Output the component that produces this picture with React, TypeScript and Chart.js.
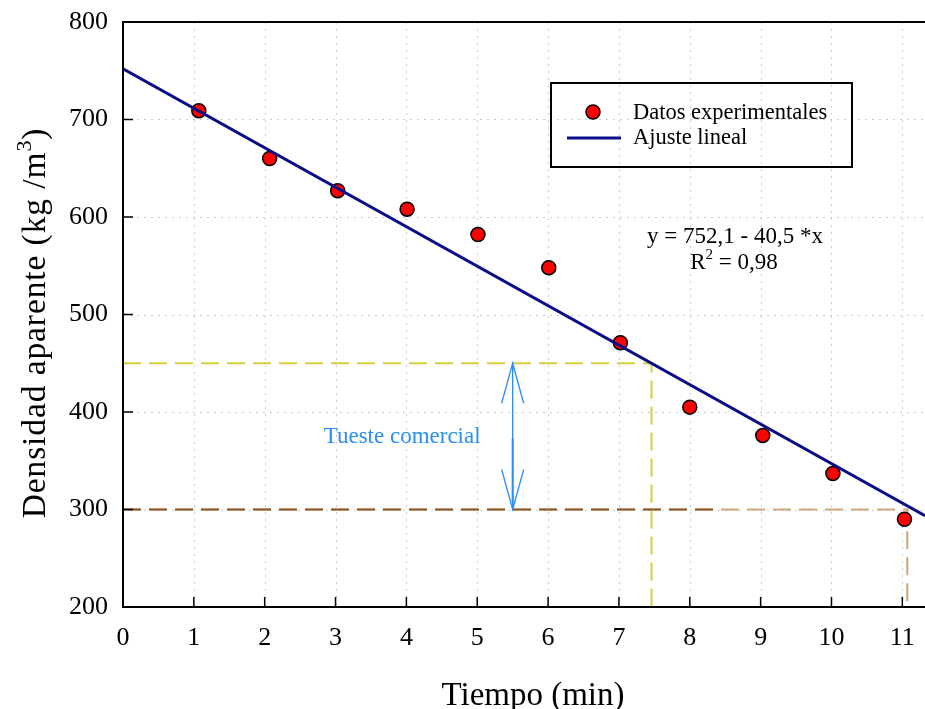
import React, { useEffect, useRef } from 'react';
import { Chart, registerables } from 'chart.js';

Chart.register(...registerables);

// ---- data ----
const timeMin = [1.07, 2.07, 3.03, 4.01, 5.01, 6.01, 7.02, 8.0, 9.03, 10.02, 11.03];
const density = [709, 660, 627, 608, 582, 548, 471, 405, 376, 337, 290];
const fitX = [0, 11.32];
const fitY = [752.1, 293.6];
const xTicks = [0, 1, 2, 3, 4, 5, 6, 7, 8, 9, 10, 11];
const yTicks = [200, 300, 400, 500, 600, 700, 800];
const commercialX = [0, 7.46, 7.46];
const commercialY = [450, 450, 200];
const finalX = [0, 11.07, 11.07];
const finalY = [300, 300, 200];
const finalDarkX = [0, 8.4];
const finalDarkY = [300, 300];
const arrowX = 5.5;
const arrowRange = [300, 450];
const tuesteLabel = 'Tueste comercial';
const tuestePos = [3.94, 374];
const equationLine1 = 'y = 752,1 - 40,5 *x';
const equationLine2 = ['R', '2', ' = 0,98'];
const seriesLabels = ['Datos experimentales', 'Ajuste lineal'];
const xTitle = 'Tiempo (min)';
const yTitleParts = ['Densidad aparente (kg /m', '3', ')'];
const X_MIN = 0;
const X_MAX = 11.32;
const Y_MIN = 200;
const Y_MAX = 800;

const SERIF = "'Times New Roman', 'Liberation Serif', serif";
const toXY = (xs: number[], ys: number[]) => xs.map((v, i) => ({ x: v, y: ys[i] }));

// draws [base, superscript, tail] centred on 0 along the current x direction
function drawSuper(ctx: any, parts: string[], size: number, supSize: number, rise: number, spacing = 0) {
  ctx.letterSpacing = `${spacing}px`;
  ctx.font = `${size}px ${SERIF}`;
  const w0 = ctx.measureText(parts[0]).width;
  const w2 = ctx.measureText(parts[2]).width;
  ctx.font = `${supSize}px ${SERIF}`;
  const w1 = ctx.measureText(parts[1]).width;
  const total = w0 + w1 + w2;
  let cx = -total / 2;
  ctx.textAlign = 'left';
  ctx.font = `${size}px ${SERIF}`;
  ctx.fillText(parts[0], cx, 0);
  cx += w0;
  ctx.font = `${supSize}px ${SERIF}`;
  ctx.fillText(parts[1], cx, -rise);
  cx += w1;
  ctx.font = `${size}px ${SERIF}`;
  ctx.fillText(parts[2], cx, 0);
  ctx.letterSpacing = '0px';
}

const decorPlugin = {
  id: 'decor',
  beforeDatasetsDraw(chart: any) {
    const { ctx, chartArea: a, scales } = chart;
    const x = scales.x;
    const y = scales.y;
    ctx.save();
    ctx.strokeStyle = '#cccccc';
    ctx.lineWidth = 1;
    ctx.setLineDash([2, 5]);
    xTicks.forEach((v) => {
      if (v === X_MIN) return;
      const px = Math.round(x.getPixelForValue(v)) + 0.5;
      ctx.beginPath();
      ctx.moveTo(px, a.top);
      ctx.lineTo(px, a.bottom);
      ctx.stroke();
    });
    yTicks.forEach((v) => {
      if (v === Y_MIN || v === Y_MAX) return;
      const py = Math.round(y.getPixelForValue(v)) + 0.5;
      ctx.beginPath();
      ctx.moveTo(a.left, py);
      ctx.lineTo(a.right, py);
      ctx.stroke();
    });
    ctx.restore();
  },
  afterDatasetsDraw(chart: any) {
    const { ctx, chartArea: a, scales } = chart;
    const x = scales.x;
    const y = scales.y;
    ctx.save();

    // double arrow "Tueste comercial"
    const ax = x.getPixelForValue(arrowX);
    const yLow = y.getPixelForValue(arrowRange[0]);
    const yHigh = y.getPixelForValue(arrowRange[1]);
    ctx.strokeStyle = '#2a8ff0';
    ctx.lineWidth = 1.3;
    ctx.beginPath();
    ctx.moveTo(ax, yHigh);
    ctx.lineTo(ax, yLow);
    ctx.moveTo(ax - 11, yHigh + 40);
    ctx.lineTo(ax, yHigh);
    ctx.lineTo(ax + 11, yHigh + 40);
    ctx.moveTo(ax - 11, yLow - 40);
    ctx.lineTo(ax, yLow);
    ctx.lineTo(ax + 11, yLow - 40);
    ctx.stroke();
    ctx.lineWidth = 2;
    ctx.beginPath();
    ctx.moveTo(ax, (yHigh + yLow) / 2 + 2);
    ctx.lineTo(ax, yLow - 6);
    ctx.stroke();

    ctx.fillStyle = '#2a8ff0';
    ctx.font = `23px ${SERIF}`;
    ctx.textAlign = 'center';
    ctx.textBaseline = 'middle';
    ctx.fillText(tuesteLabel, x.getPixelForValue(tuestePos[0]), y.getPixelForValue(tuestePos[1]));

    // equation
    ctx.fillStyle = '#000';
    ctx.textBaseline = 'alphabetic';
    ctx.fillText(equationLine1, 735, 243);
    ctx.save();
    ctx.translate(734, 269);
    drawSuper(ctx, equationLine2, 23, 15, 10);
    ctx.restore();

    // legend
    ctx.lineWidth = 2;
    ctx.strokeStyle = '#000';
    ctx.strokeRect(551, 83, 301, 84);
    const ds0 = chart.data.datasets[0];
    const ds1 = chart.data.datasets[1];
    ctx.beginPath();
    ctx.arc(593, 112, 7, 0, Math.PI * 2);
    ctx.fillStyle = ds0.backgroundColor;
    ctx.fill();
    ctx.lineWidth = 1.5;
    ctx.strokeStyle = '#000';
    ctx.stroke();
    ctx.strokeStyle = ds1.borderColor;
    ctx.lineWidth = 3;
    ctx.beginPath();
    ctx.moveTo(567, 138);
    ctx.lineTo(621, 138);
    ctx.stroke();
    ctx.fillStyle = '#000';
    ctx.textAlign = 'left';
    ctx.font = `22.5px ${SERIF}`;
    ctx.fillText(ds0.label, 633, 119);
    ctx.fillText(ds1.label, 633, 144);

    // axes frame
    ctx.strokeStyle = '#000';
    ctx.lineWidth = 2;
    ctx.beginPath();
    ctx.moveTo(a.right, a.top);
    ctx.lineTo(a.left, a.top);
    ctx.lineTo(a.left, a.bottom);
    ctx.lineTo(a.right, a.bottom);
    ctx.stroke();

    // inward ticks
    ctx.lineWidth = 1.5;
    ctx.beginPath();
    xTicks.forEach((v) => {
      if (v === X_MIN) return;
      const px = x.getPixelForValue(v);
      ctx.moveTo(px, a.bottom);
      ctx.lineTo(px, a.bottom - 10);
    });
    yTicks.forEach((v) => {
      if (v === Y_MIN || v === Y_MAX) return;
      const py = y.getPixelForValue(v);
      ctx.moveTo(a.left, py);
      ctx.lineTo(a.left + 10, py);
    });
    ctx.stroke();

    // axis titles
    ctx.fillStyle = '#000';
    ctx.font = `33px ${SERIF}`;
    ctx.textAlign = 'center';
    ctx.textBaseline = 'alphabetic';
    ctx.fillText(xTitle, 533, 705);
    ctx.save();
    ctx.translate(45, 323);
    ctx.rotate(-Math.PI / 2);
    drawSuper(ctx, yTitleParts, 33.5, 22, 14, 0.9);
    ctx.restore();

    ctx.restore();
  },
};

export default function App() {
  const canvasRef = useRef<HTMLCanvasElement | null>(null);

  useEffect(() => {
    document.body.style.margin = '0';
    const canvas = canvasRef.current;
    if (!canvas) return;
    const tickFont = { family: SERIF, size: 26 };
    const chart = new Chart(canvas, {
      type: 'scatter',
      data: {
        datasets: [
          {
            label: seriesLabels[0],
            data: toXY(timeMin, density),
            backgroundColor: '#ff0000',
            borderColor: '#000000',
            borderWidth: 1.5,
            pointRadius: 7,
            showLine: false,
            order: 1,
          } as any,
          {
            label: seriesLabels[1],
            data: toXY(fitX, fitY),
            borderColor: '#0c0c88',
            borderWidth: 3,
            pointRadius: 0,
            showLine: true,
            fill: false,
            order: 0,
          },
          {
            label: 'comercial',
            data: toXY(commercialX, commercialY),
            borderColor: '#d4cf3a',
            borderWidth: 2,
            borderDash: [18, 8],
            pointRadius: 0,
            showLine: true,
            fill: false,
            order: 3,
          },
          {
            label: 'final',
            data: toXY(finalX, finalY),
            borderColor: '#cfa67e',
            borderWidth: 2,
            borderDash: [18, 8],
            pointRadius: 0,
            showLine: true,
            fill: false,
            order: 4,
          },
          {
            label: 'final2',
            data: toXY(finalDarkX, finalDarkY),
            borderColor: '#8b5a2b',
            borderWidth: 2,
            borderDash: [18, 8],
            pointRadius: 0,
            showLine: true,
            fill: false,
            order: 2,
          },
        ],
      },
      options: {
        responsive: false,
        animation: false,
        layout: { autoPadding: false, padding: { top: 22, right: 0, bottom: 0, left: 0 } },
        plugins: { legend: { display: false }, tooltip: { enabled: false } },
        scales: {
          x: {
            type: 'linear',
            min: X_MIN,
            max: X_MAX,
            grid: { display: false, drawTicks: false },
            border: { display: false },
            ticks: { font: tickFont, color: '#000', padding: 16, maxRotation: 0, autoSkip: false },
            afterBuildTicks: (s: any) => {
              s.ticks = xTicks.map((v) => ({ value: v }));
            },
            afterFit: (s: any) => {
              s.height = 102;
              s.paddingLeft = 0;
              s.paddingRight = 0;
            },
          },
          y: {
            type: 'linear',
            min: Y_MIN,
            max: Y_MAX,
            grid: { display: false, drawTicks: false },
            border: { display: false },
            ticks: { font: tickFont, color: '#000', padding: 15, autoSkip: false },
            afterBuildTicks: (s: any) => {
              s.ticks = yTicks.map((v) => ({ value: v }));
            },
            afterFit: (s: any) => {
              s.width = 123;
              s.paddingTop = 0;
              s.paddingBottom = 0;
            },
          },
        },
      },
      plugins: [decorPlugin],
    });
    return () => chart.destroy();
  }, []);

  return (
    <div style={{ width: 925, height: 709, background: '#fff' }}>
      <canvas ref={canvasRef} width={925} height={709} style={{ display: 'block' }} />
    </div>
  );
}
